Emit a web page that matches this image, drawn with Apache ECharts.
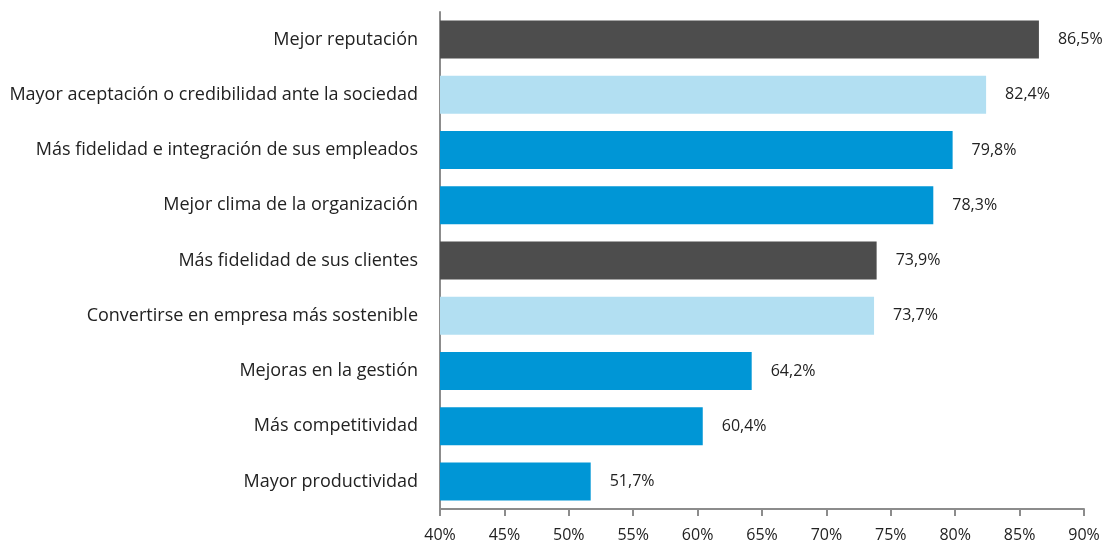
<!DOCTYPE html>
<html>
<head>
<meta charset="utf-8">
<script src="https://cdn.jsdelivr.net/npm/echarts@6/dist/echarts.min.js"></script>
<style>
  html, body { margin: 0; padding: 0; background: #fff; }
  #chart { width: 1107px; height: 545px; }
</style>
</head>
<body>
<div id="chart"></div>
<script>
// datos (de arriba a abajo)
const categories = [
    'Mejor reputación',
    'Mayor aceptación o credibilidad ante la sociedad',
    'Más fidelidad e integración de sus empleados',
    'Mejor clima de la organización',
    'Más fidelidad de sus clientes',
    'Convertirse en empresa más sostenible',
    'Mejoras en la gestión',
    'Más competitividad',
    'Mayor productividad'
];
const values = [86.5, 82.4, 79.8, 78.3, 73.9, 73.7, 64.2, 60.4, 51.7];
const barColors = ['#4d4d4d', '#b2dff2', '#0096d6', '#0096d6', '#4d4d4d', '#b2dff2', '#0096d6', '#0096d6', '#0096d6'];

const chart = echarts.init(document.getElementById('chart'));
const font = '"Open Sans", Lato, sans-serif';

const option = {
    animation: false,
    grid: { left: 440, right: 23, top: 12, bottom: 36 },
    xAxis: {
        type: 'value',
        min: 40,
        max: 90,
        interval: 5,
        splitLine: { show: false },
        axisLine: { show: true, lineStyle: { color: '#8c8c8c', width: 2 } },
        axisTick: { show: true, length: 7, lineStyle: { color: '#8c8c8c', width: 2 } },
        axisLabel: {
            formatter: v => v + '%',
            color: '#222',
            fontSize: 16,
            fontFamily: font,
            margin: 18
        }
    },
    yAxis: {
        type: 'category',
        inverse: true,
        data: categories,
        axisLine: { show: true, lineStyle: { color: '#8c8c8c', width: 2 } },
        axisTick: { show: false },
        axisLabel: {
            color: '#222',
            fontSize: 18,
            fontFamily: font,
            margin: 22
        }
    },
    series: [{
        type: 'bar',
        barWidth: 38,
        data: values.map((v, i) => ({ value: v, itemStyle: { color: barColors[i] } })),
        label: {
            show: true,
            position: 'right',
            distance: 19,
            color: '#222',
            fontSize: 16,
            fontFamily: font,
            formatter: p => p.value.toFixed(1).replace('.', ',') + '%'
        }
    }]
};
chart.setOption(option);
</script>
</body>
</html>
